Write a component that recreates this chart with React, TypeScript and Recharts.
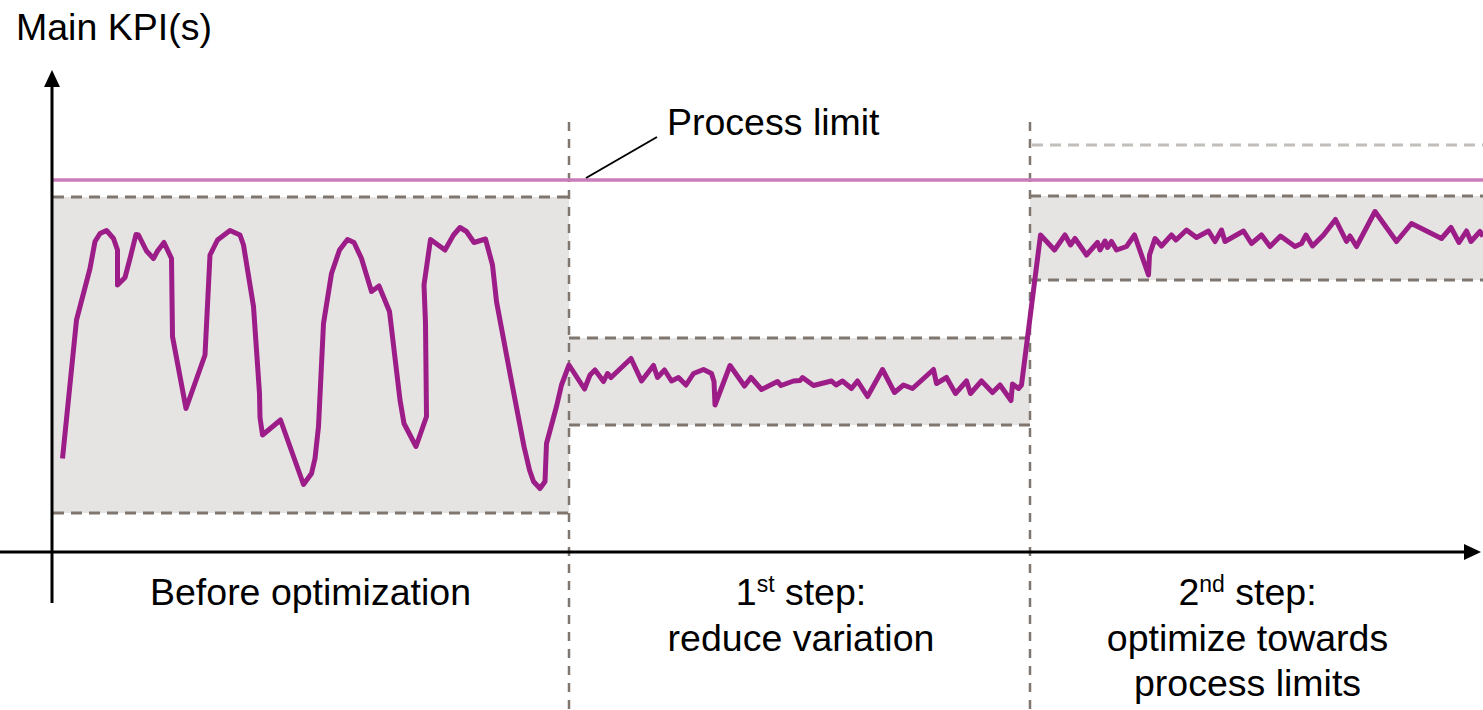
import { LineChart, Line, XAxis, YAxis, ReferenceArea, ReferenceLine, ReferenceDot } from "recharts";

// KPI trace, one array per phase: [time, kpi]
const beforeSeries = [
  [2.1, 18.7], [4.9, 46.4], [7.6, 56.7], [8.6, 62.1], [9.6, 63.7], [10.9, 64.3], [12.3, 62.7], [13.1, 60.4],
  [13.1, 53.4], [14.6, 54.9], [15.6, 58.7], [16.8, 63.5], [17.3, 63.4], [18.9, 60.2], [20.3, 58.7], [21.1, 60.2],
  [22.4, 61.9], [23.9, 58.7], [24.1, 43.1], [26.8, 28.7], [30.6, 39.4], [31.6, 59.4], [33.1, 62.4], [35.6, 64.3],
  [37.6, 63.4], [38.3, 61.4], [40.3, 49.1], [41.5, 31.7], [41.6, 26.9], [42.1, 23.4], [45.7, 26.4], [50.3, 13.5],
  [51.9, 15.7], [52.6, 18.7], [53.3, 25.1], [54.3, 45.7], [55.9, 55.7], [57.5, 60.4], [59.1, 62.5], [60.4, 61.9],
  [61.9, 58.7], [63.9, 52.1], [65.4, 53.2], [67.5, 48.1], [69.6, 30.4], [70.4, 25.7], [72.8, 21.1], [74.9, 27.1],
  [74.7, 45.7], [74.4, 53.4], [75.7, 62.5], [78.6, 60.4], [80.3, 63.4], [81.6, 64.9], [82.9, 64.1], [84.4, 61.9],
  [86.7, 62.6], [88.1, 57.4], [88.9, 50.1], [91.6, 35.7], [94.4, 21.1], [95.5, 16.4], [96.3, 14.1], [97.6, 12.7],
  [98.6, 14.1], [98.9, 21.7], [100.9, 29.1], [101.9, 33.4], [103.4, 37.4],
];

const step1Series = [
  [106.5, 32.6], [107.6, 35.4], [108.6, 36.4], [110.3, 34.1], [111.1, 35.7], [111.8, 34.9], [115.8, 38.7],
  [117.9, 34.2], [120.3, 37.3], [121.1, 34.9], [122.5, 36.4], [123.9, 34.2], [125.3, 34.9], [126.8, 33.4],
  [128.3, 35.7], [130.3, 36.5], [131.9, 35.7], [132.4, 34.1], [132.6, 29.4], [135.6, 37.3], [138.5, 33.2],
  [139.8, 34.9], [141.9, 32.5], [145.1, 34.1], [145.8, 33.3], [148.3, 34.2], [149.6, 34.3], [150.1, 34.9],
  [152.3, 33.3], [155.9, 34.2], [156.8, 33.4], [158.1, 34.2], [159.9, 32.7], [161.1, 34.2], [163.1, 31.1],
  [166.1, 36.5], [168.5, 31.9], [170.3, 33.4], [172.1, 32.7], [176.3, 36.5], [176.9, 33.7], [178.9, 34.9],
  [180.7, 31.7], [182.9, 34.2], [183.7, 31.7], [185.9, 34.2], [188.1, 31.9], [189.6, 33.4], [191.8, 30.3],
  [192.1, 33.6], [193.3, 32.7], [193.9, 33.4],
];

const step2Series = [
  [197.7, 63.4], [200.5, 60.4], [202.6, 63.4], [203.7, 61.4], [204.6, 62.7], [206.9, 59.4], [209.1, 61.9],
  [209.6, 60.4], [210.6, 62.2], [211.1, 60.9], [211.9, 62.1], [212.9, 60.4], [214.9, 61.1], [216.5, 63.4],
  [219.3, 55.4], [219.5, 59.4], [220.6, 62.7], [221.9, 61.2], [223.9, 63.4], [224.8, 62.4], [226.9, 64.4],
  [228.9, 62.9], [231.3, 64.2], [232.6, 62.1], [233.9, 64.4], [234.6, 62.1], [238.3, 64.2], [239.9, 61.7],
  [241.9, 63.4], [243.6, 61.1], [245.7, 63.2], [248.6, 61.1], [249.9, 61.7], [250.8, 63.4], [252.1, 61.2],
  [254.3, 63.4], [256.7, 66.5], [258.9, 62.1], [259.6, 63.2], [260.9, 61.1], [264.6, 68.1], [268.9, 62.1],
  [271.9, 65.7], [277.9, 62.7], [279.8, 64.9], [281.4, 61.9], [282.9, 64.2], [283.8, 62.1], [285.6, 64.1],
  [286.2, 63.1],
];

// phase boundaries and variation bands [start, end, lower, upper]
const phaseBreaks = [103.4, 195.6];
const bands = [
  [0.2, 103.4, 7.8, 71.0],
  [103.4, 195.6, 25.4, 42.8],
  [195.6, 286.2, 54.4, 71.2],
];
const processLimit = 74.4;
const newLimit = 81.4;

const axisTitle = "Main KPI(s)";
const limitLabel = "Process limit";
const phaseLabels = [
  ["Before optimization"],
  ["1st step:", "reduce variation"],
  ["2nd step:", "optimize towards", "process limits"],
];
const phaseCenters = [51.7, 149.8, 239.1];

const kpiData = [...beforeSeries, ...step1Series, ...step2Series].map(([t, v]) => ({ t, v }));

const FONT = "'Liberation Sans', Arial, sans-serif";
const FS = 37.5;
const DASH = "#7f776f";

function LabelLine({ cx, cy, text, anchor = "middle" }: any) {
  const m = text.match(/^(\d)(st|nd|rd|th)(.*)$/);
  return (
    <text x={cx} y={cy} textAnchor={anchor} fontFamily={FONT} fontSize={FS} fill="#000">
      {m ? (
        <>
          <tspan>{m[1]}</tspan>
          <tspan fontSize={23} dy={-13}>{m[2]}</tspan>
          <tspan dy={13}>{m[3]}</tspan>
        </>
      ) : (
        text
      )}
    </text>
  );
}

export default function App() {
  return (
    <div style={{ position: "absolute", left: 0, top: 0, width: 1483, height: 710, background: "#fff" }}>
      <LineChart width={1483} height={710} data={kpiData} margin={{ top: 0, right: 0, bottom: 0, left: 0 }}>
        <XAxis type="number" dataKey="t" domain={[-10.4, 286.2]} allowDataOverflow hide />
        <YAxis type="number" domain={[-31.6, 110.4]} allowDataOverflow hide />

        {bands.map(([x1, x2, y1, y2], i) => (
          <ReferenceArea key={`b${i}`} x1={x1} x2={x2} y1={y1} y2={y2} fill="#e6e4e3" fillOpacity={1} stroke="none" />
        ))}
        {bands.map(([x1, x2, y1, y2], i) => (
          <ReferenceLine key={`bt${i}`} segment={[{ x: x1, y: y2 }, { x: x2, y: y2 }]} stroke={DASH} strokeWidth={3} strokeDasharray="11 7" />
        ))}
        {bands.map(([x1, x2, y1], i) => (
          <ReferenceLine key={`bb${i}`} segment={[{ x: x1, y: y1 }, { x: x2, y: y1 }]} stroke={DASH} strokeWidth={3} strokeDasharray="11 7" />
        ))}
        <ReferenceLine segment={[{ x: 196, y: newLimit }, { x: 286.2, y: newLimit }]} stroke="#c2beb9" strokeWidth={3} strokeDasharray="11 7" />
        {phaseBreaks.map((x, i) => (
          <ReferenceLine key={`d${i}`} segment={[{ x, y: 86 }, { x, y: -31.6 }]} stroke={DASH} strokeWidth={2.5} strokeDasharray="9 8" />
        ))}
        <ReferenceLine segment={[{ x: 0.2, y: processLimit }, { x: 286.2, y: processLimit }]} stroke="#c87dba" strokeWidth={3.5} />

        {/* axes */}
        <ReferenceLine segment={[{ x: 0, y: -10.2 }, { x: 0, y: 93 }]} stroke="#000" strokeWidth={3} />
        <ReferenceLine segment={[{ x: -10.4, y: 0 }, { x: 283, y: 0 }]} stroke="#000" strokeWidth={3} />
        <ReferenceDot x={0} y={96.4} r={0} shape={(p: any) => <polygon points={`${p.cx},${p.cy} ${p.cx - 8},${p.cy + 17} ${p.cx + 8},${p.cy + 17}`} fill="#000" />} />
        <ReferenceDot x={285.8} y={0} r={0} shape={(p: any) => <polygon points={`${p.cx},${p.cy} ${p.cx - 17},${p.cy - 8} ${p.cx - 17},${p.cy + 8}`} fill="#000" />} />

        <Line type="linear" dataKey="v" stroke="#9c1d87" strokeWidth={5} strokeLinejoin="round" dot={false} activeDot={false} isAnimationActive={false} />

        <ReferenceLine segment={[{ x: 106.8, y: 74.8 }, { x: 121, y: 83 }]} stroke="#000" strokeWidth={2} />
        <ReferenceDot x={123} y={83.4} r={0} shape={(p: any) => <LabelLine cx={p.cx} cy={p.cy} text={limitLabel} anchor="start" />} />
        <ReferenceDot x={-7.2} y={102.4} r={0} shape={(p: any) => <LabelLine cx={p.cx} cy={p.cy} text={axisTitle} anchor="start" />} />
        {phaseLabels.map((lines, i) =>
          lines.map((txt, j) => (
            <ReferenceDot key={`l${i}-${j}`} x={phaseCenters[i]} y={-10.6 - j * 9.1} r={0} shape={(p: any) => <LabelLine cx={p.cx} cy={p.cy} text={txt} />} />
          ))
        )}
      </LineChart>
    </div>
  );
}
